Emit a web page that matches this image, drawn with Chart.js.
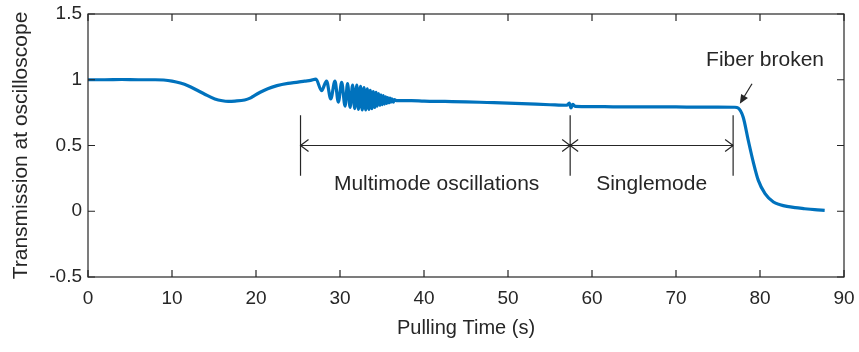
<!DOCTYPE html>
<html lang="en">
<head>
<meta charset="UTF-8">
<title>Transmission during fiber pulling</title>
<script src="https://cdn.jsdelivr.net/npm/chart.js@4"></script>
<style>
  html, body { margin: 0; padding: 0; background: #fff; }
  canvas { display: block; }
</style>
</head>
<body>
<canvas id="chart" width="859" height="352"></canvas>
<script>
// Pulling time (s) and transmission
const timeS = [
  0, 2, 4, 6, 8, 9, 10, 11, 11.9, 13, 13.9, 15.1, 16, 16.7, 17.5, 18.65, 19.3, 19.8, 20.5, 21.4,
  22.5, 23.8, 25, 25.8, 26.5, 27.14,
  27.8, 28.4, 28.9, 29.4, 29.8, 30.2, 30.6, 30.9, 31.2, 31.5, 31.75, 32.0, 32.2, 32.45, 32.65,
  32.86, 33.06, 33.25, 33.45, 33.6, 33.8, 33.96, 34.13, 34.29, 34.44, 34.6, 34.76, 34.88, 35.03,
  35.15, 35.3, 35.43, 35.55, 35.67, 35.83, 35.95, 36.07, 36.19, 36.35, 36.47, 36.7,
  37.5, 38.5, 40, 42.5, 45, 47.5, 50, 52.5, 55, 57, 57.3, 57.5, 57.7, 58, 60, 62.5, 65, 67.5,
  70, 72.5, 75, 77, 77.4, 78.0, 78.6, 79.2, 79.8, 80.6, 81.6, 82.4, 83.2, 84.2, 85.2, 86.5, 87.7
];
const transmission = [
  1.0, 1.0, 1.002, 1.0, 1.0, 0.998, 0.99, 0.975, 0.955, 0.92, 0.89, 0.854, 0.84, 0.836, 0.838, 0.846, 0.86, 0.88, 0.905, 0.932,
  0.955, 0.972, 0.982, 0.99, 0.995, 1.005,
  0.917, 0.99, 0.854, 0.99, 0.83, 0.98, 0.80, 0.97, 0.79, 0.96, 0.78, 0.96, 0.775, 0.95, 0.77,
  0.94, 0.77, 0.93, 0.775, 0.92, 0.78, 0.91, 0.79, 0.905, 0.80, 0.895, 0.805, 0.885, 0.81,
  0.88, 0.815, 0.87, 0.82, 0.865, 0.825, 0.86, 0.83, 0.855, 0.83, 0.85, 0.842,
  0.842, 0.842, 0.838, 0.835, 0.832, 0.827, 0.822, 0.816, 0.81, 0.806, 0.822, 0.786, 0.812, 0.798, 0.796, 0.794, 0.793, 0.793,
  0.793, 0.792, 0.792, 0.791, 0.785, 0.715, 0.54, 0.374, 0.235, 0.134, 0.07, 0.05, 0.037, 0.027, 0.02, 0.012, 0.007
];

const xTicks = [0, 10, 20, 30, 40, 50, 60, 70, 80, 90];
const yTicks = [-0.5, 0, 0.5, 1, 1.5];

// annotation: mode regions (s) and labels
const regionEdges = [25.3, 57.4, 76.8];
const regionNames = ['Multimode oscillations', 'Singlemode'];
const brokenLabel = 'Fiber broken';

const INK = '#262626';
const FONT = '"Liberation Sans", Arial, Helvetica, sans-serif';
const TICK = 7;

function chevron(ctx, px, py, dir) {
  ctx.moveTo(px - dir * 8, py - 6);
  ctx.lineTo(px, py);
  ctx.lineTo(px - dir * 8, py + 6);
}

const frame = {
  id: 'frame',
  afterDraw(chart) {
    const { ctx, chartArea: a, scales: { x, y } } = chart;
    ctx.save();
    ctx.strokeStyle = INK;
    ctx.lineWidth = 1.2;
    ctx.strokeRect(a.left, a.top, a.right - a.left, a.bottom - a.top);

    // ticks point inwards, on all four sides
    ctx.beginPath();
    xTicks.forEach(v => {
      const px = x.getPixelForValue(v);
      ctx.moveTo(px, a.bottom); ctx.lineTo(px, a.bottom - TICK);
      ctx.moveTo(px, a.top); ctx.lineTo(px, a.top + TICK);
    });
    yTicks.forEach(v => {
      const py = y.getPixelForValue(v);
      ctx.moveTo(a.left, py); ctx.lineTo(a.left + TICK, py);
      ctx.moveTo(a.right, py); ctx.lineTo(a.right - TICK, py);
    });
    ctx.stroke();

    // region markers
    const yTop = y.getPixelForValue(0.73), yBot = y.getPixelForValue(0.27), yMid = y.getPixelForValue(0.5);
    const ex = regionEdges.map(v => x.getPixelForValue(v));
    ctx.beginPath();
    ex.forEach(px => { ctx.moveTo(px, yTop); ctx.lineTo(px, yBot); });
    ctx.moveTo(ex[0], yMid); ctx.lineTo(ex[2], yMid);
    chevron(ctx, ex[0], yMid, -1);
    chevron(ctx, ex[1], yMid, 1);
    chevron(ctx, ex[1], yMid, -1);
    chevron(ctx, ex[2], yMid, 1);
    ctx.stroke();

    ctx.fillStyle = INK;
    ctx.font = '21px ' + FONT;
    ctx.textAlign = 'center';
    ctx.textBaseline = 'middle';
    ctx.fillText(regionNames[0], x.getPixelForValue(41.5), y.getPixelForValue(0.205));
    ctx.fillText(regionNames[1], x.getPixelForValue(67.1), y.getPixelForValue(0.205));
    ctx.fillText(brokenLabel, x.getPixelForValue(80.6), y.getPixelForValue(1.15));

    // arrow to the break point
    const x0 = x.getPixelForValue(79.05), y0 = y.getPixelForValue(0.97);
    const x1 = x.getPixelForValue(77.6), y1 = y.getPixelForValue(0.818);
    const ang = Math.atan2(y1 - y0, x1 - x0);
    ctx.beginPath();
    ctx.moveTo(x0, y0);
    ctx.lineTo(x1 - 7 * Math.cos(ang), y1 - 7 * Math.sin(ang));
    ctx.stroke();
    ctx.beginPath();
    ctx.moveTo(x1, y1);
    ctx.lineTo(x1 - 9 * Math.cos(ang) + 4 * Math.sin(ang), y1 - 9 * Math.sin(ang) - 4 * Math.cos(ang));
    ctx.lineTo(x1 - 9 * Math.cos(ang) - 4 * Math.sin(ang), y1 - 9 * Math.sin(ang) + 4 * Math.cos(ang));
    ctx.closePath();
    ctx.fill();
    ctx.restore();
  }
};

new Chart(document.getElementById('chart'), {
  type: 'line',
  data: {
    datasets: [{
      data: timeS.map((t, i) => ({ x: t, y: transmission[i] })),
      borderColor: '#0072BD',
      borderWidth: 3.2,
      pointRadius: 0,
      cubicInterpolationMode: 'monotone',
      fill: false,
    }],
  },
  options: {
    responsive: false,
    animation: false,
    layout: { padding: { top: 14, right: 15, left: 0, bottom: 0 } },
    plugins: { legend: { display: false }, tooltip: { enabled: false } },
    scales: {
      x: {
        type: 'linear',
        min: 0, max: 90,
        afterBuildTicks: s => { s.ticks = xTicks.map(v => ({ value: v })); },
        afterFit: s => { s.height = 75; s.paddingLeft = 0; s.paddingRight = 0; },
        grid: { display: false, drawTicks: false },
        border: { display: false },
        ticks: { color: INK, padding: 10, maxRotation: 0, font: { family: FONT, size: 19 } },
        title: { display: true, text: 'Pulling Time (s)', color: INK, padding: { top: 0, bottom: 12 }, font: { family: FONT, size: 20 } },
      },
      y: {
        min: -0.5, max: 1.5,
        afterBuildTicks: s => { s.ticks = yTicks.map(v => ({ value: v })); },
        afterFit: s => { s.width = 88; s.paddingTop = 0; s.paddingBottom = 0; },
        grid: { display: false, drawTicks: false },
        border: { display: false },
        ticks: { color: INK, padding: 6, font: { family: FONT, size: 19 }, callback: v => String(v) },
        title: { display: true, text: 'Transmission at oscilloscope', color: INK, padding: { top: 9, bottom: 0 }, font: { family: FONT, size: 21 } },
      },
    },
  },
  plugins: [frame],
});
</script>
</body>
</html>
